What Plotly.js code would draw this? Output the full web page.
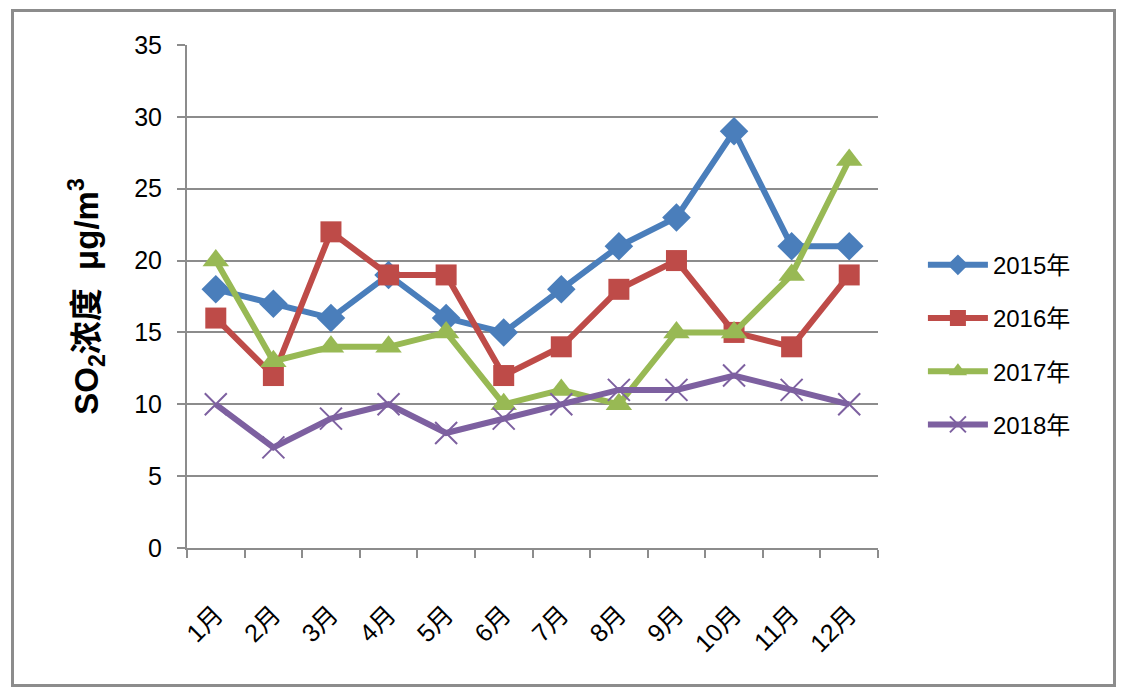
<!DOCTYPE html>
<html>
<head>
<meta charset="utf-8">
<script src="https://cdn.plot.ly/plotly-3.0.1.min.js"></script>
<style>
html,body{margin:0;padding:0;background:#fff;}
#wrap{position:relative;width:1124px;height:692px;}
#chart{position:absolute;left:0;top:0;width:1124px;height:692px;}
#frame{position:absolute;left:11px;top:9px;width:1099px;height:672px;border:3px solid #8c8c8c;pointer-events:none;}
</style>
</head>
<body>
<div id="wrap"><div id="chart"></div><div id="frame"></div></div>
<script>
const months = ['1月','2月','3月','4月','5月','6月','7月','8月','9月','10月','11月','12月'];
const seriesNames = ['2015年','2016年','2017年','2018年'];
const y2015 = [18,17,16,19,16,15,18,21,23,29,21,21];
const y2016 = [16,12,22,19,19,12,14,18,20,15,14,19];
const y2017 = [20,13,14,14,15,10,11,10,15,15,19,27];
const y2018 = [10,7,9,10,8,9,10,11,11,12,11,10];

const colors = ['#4A7EBB','#BE4B48','#98B954','#7D60A0'];
const symbols = ['diamond','square','triangle-up','x-thin'];
const sizes = [22,21,23,22];
const data = [y2015,y2016,y2017,y2018].map((ys,i)=>({
  type:'scatter', mode:'lines+markers', x:months, y:ys, name:seriesNames[i],
  legendgroup:'g'+i,
  line:{color:colors[i], width:6},
  marker:{symbol:symbols[i], size:sizes[i], color:colors[i],
    line:{color:colors[i], width: i===3 ? 2 : 0}}
}));

const fontFam = 'Liberation Sans, Noto Sans CJK SC, sans-serif';
const layout = {
  width:1124, height:692,
  margin:{l:187, r:246, t:45, b:144},
  paper_bgcolor:'#fff', plot_bgcolor:'#fff',
  showlegend:true,
  legend:{x:1.065, y:0.607, xanchor:'left', yanchor:'top', font:{family:fontFam, size:24, color:'#000'},
    tracegroupgap:19, itemwidth:60, bgcolor:'rgba(0,0,0,0)'},
  xaxis:{type:'category', range:[-0.5,11.5], autorange:false, showgrid:false, showline:true, linecolor:'#8c8c8c', linewidth:2,
    ticks:'outside', tickson:'boundaries', ticklen:8, tickcolor:'#8c8c8c', tickwidth:2,
    tickangle:-45, ticklabelstandoff:40, tickfont:{family:fontFam, size:25, color:'#000'}, zeroline:false},
  yaxis:{range:[0,35], dtick:5, tick0:0, showgrid:true, gridcolor:'#8c8c8c', gridwidth:2,
    showline:true, linecolor:'#8c8c8c', linewidth:2, ticks:'outside', ticklen:8, tickcolor:'#8c8c8c', tickwidth:2,
    ticklabelstandoff:10,
    tickfont:{family:fontFam, size:25, color:'#000'}, zeroline:false,
    title:{text:'<b>SO<sub>2</sub>浓度  μg/m<sup>3</sup></b>', font:{family:fontFam, size:33, color:'#000'}, standoff:26}}
};
Plotly.newPlot('chart', data, layout, {displayModeBar:false, staticPlot:true});
</script>
</body>
</html>
